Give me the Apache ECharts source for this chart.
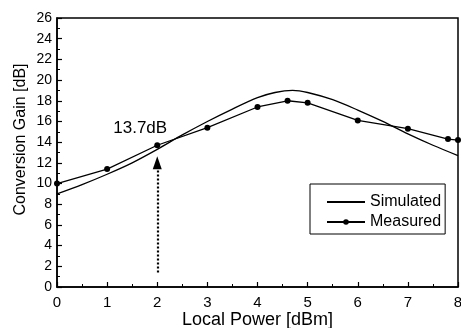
<!DOCTYPE html>
<html><head><meta charset="utf-8">
<script src="https://cdn.jsdelivr.net/npm/echarts@6/dist/echarts.min.js"></script>
<style>html,body{margin:0;padding:0;background:#fff}#c{width:461px;height:328px}</style>
</head><body><div id="c"></div>
<script>
const simX = [0,0.5,1,1.5,2,2.5,3,3.5,4,4.35,4.7,5,5.5,6,6.5,7,7.5,8];
const simY = [9.0,9.9,10.9,12.0,13.3,14.7,16.0,17.2,18.3,18.8,19.0,18.8,18.1,17.1,16.0,14.8,13.7,12.7];
const measX = [0,1,2,3,4,4.6,5,6,7,7.8,8];
const measY = [10,11.4,13.7,15.4,17.4,18,17.8,16.1,15.3,14.3,14.2];
const annotText = "13.7dB";
const annotPos = [1.66, 15.3];
const arrowFrom = [2, 1.4];
const arrowTo = [2, 12.0];
const xTicks = [0,1,2,3,4,5,6,7,8];
const yTicks = [0,2,4,6,8,10,12,14,16,18,20,22,24,26];

const F = "'Liberation Sans', Arial, sans-serif";
const chart = echarts.init(document.getElementById('c'));
const line = {show:true,lineStyle:{color:'#000',width:1.5}};
const tick = {show:true,inside:true,length:5,lineStyle:{color:'#000',width:1.2}};
const minor = {show:true,splitNumber:2,length:3,lineStyle:{color:'#000',width:1}};
chart.setOption({
  animation:false,
  backgroundColor:'#fff',
  grid:{left:57,right:3,top:18,bottom:41,outerBoundsMode:'none',containLabel:false,show:true,borderColor:'#000',borderWidth:1.5,backgroundColor:'transparent'},
  xAxis:{type:'value',min:0,max:8,interval:1,name:'Local Power [dBm]',nameLocation:'middle',nameGap:24,nameMoveOverlap:false,
    axisLine:line,axisTick:tick,minorTick:minor,splitLine:{show:false},
    axisLabel:{color:'#000',fontSize:15,fontFamily:F,margin:8,formatter:v=>xTicks.includes(v)?String(v):''},
    nameTextStyle:{color:'#000',fontSize:18,fontFamily:F}},
  yAxis:{type:'value',min:0,max:26,interval:2,name:'Conversion Gain [dB]',nameLocation:'middle',nameGap:28,nameMoveOverlap:false,
    axisLine:line,axisTick:tick,minorTick:minor,splitLine:{show:false},
    axisLabel:{color:'#000',fontSize:14,fontFamily:F,margin:5,formatter:v=>yTicks.includes(v)?String(v):''},
    nameTextStyle:{color:'#000',fontSize:16,fontFamily:F,padding:[0,0,0,26]}},
  legend:{
    orient:'vertical',left:310,top:184,width:133,
    padding:[10,4,4,16],itemGap:4,itemWidth:38,itemHeight:7,
    borderColor:'#000',borderWidth:1,backgroundColor:'#fff',
    textStyle:{color:'#000',fontSize:16,fontFamily:F},
    data:[{name:'Simulated',itemStyle:{opacity:0}},{name:'Measured'}]
  },
  series:[
    {name:'Simulated',type:'line',smooth:0.3,showSymbol:false,symbol:'none',
     data:simX.map((x,i)=>[x,simY[i]]),lineStyle:{color:'#000',width:1.3},itemStyle:{color:'#000'},z:3},
    {name:'Measured',type:'line',smooth:false,symbol:'circle',symbolSize:6,
     data:measX.map((x,i)=>[x,measY[i]]),lineStyle:{color:'#000',width:1.3},itemStyle:{color:'#000'},z:4,
     markLine:{silent:true,symbol:['none','triangle'],symbolSize:[9,13],
       lineStyle:{color:'#000',type:[2,2],width:2.2},label:{show:false},
       data:[[{coord:arrowFrom},{coord:arrowTo}]]},
     markPoint:{silent:true,symbol:'circle',symbolSize:0,
       label:{show:true,color:'#000',fontSize:17,fontFamily:F,formatter:annotText,position:'inside'},
       data:[{coord:annotPos}]}
    }
  ]
});
</script></body></html>
